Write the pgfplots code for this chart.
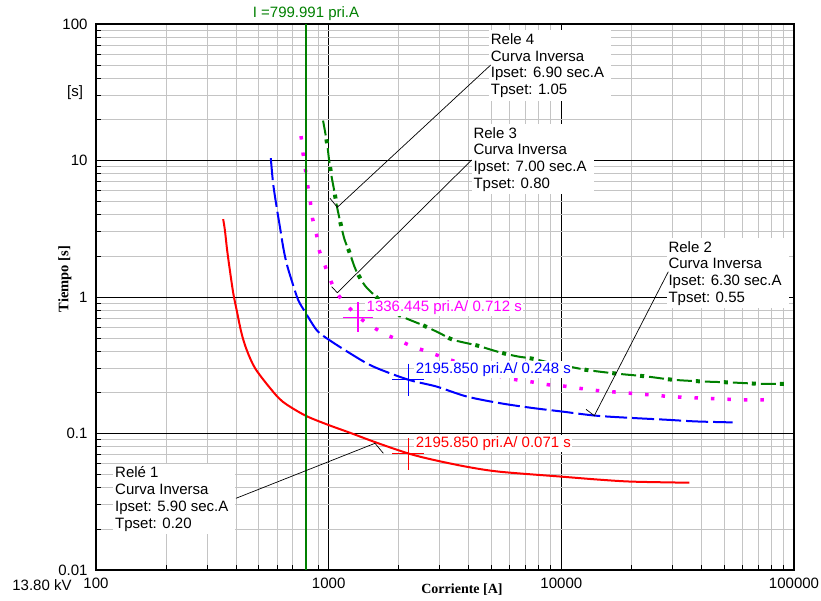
\documentclass[border=0pt]{standalone}
\usepackage{pgfplots}
\pgfplotsset{compat=1.18}
\usepackage{fontspec}
\setmainfont{Liberation Sans}
\newfontfamily\serifbf{Liberation Serif}
\definecolor{cRed}{RGB}{255,0,0}
\definecolor{cBlue}{RGB}{0,0,255}
\definecolor{cMag}{RGB}{255,0,255}
\definecolor{cGreen}{RGB}{0,128,0}
\definecolor{cGrid}{RGB}{196,196,196}
\newcommand{\lbl}{\fontsize{15}{16.7}\selectfont}
\begin{document}
\begin{tikzpicture}
\begin{axis}[
  scale only axis, width=698pt, height=546pt,
  xmode=log, ymode=log,
  xmin=100, xmax=100000, ymin=0.01, ymax=100,
  xtick={100,1000,10000,100000}, xticklabels={100,1000,10000,100000},
  ytick={0.01,0.1,1,10,100}, yticklabels={0.01,0.1,1,10,100},
  minor xtick={200,300,400,500,600,700,800,900,2000,3000,4000,5000,6000,7000,8000,9000,20000,30000,40000,50000,60000,70000,80000,90000},
  minor ytick={0.02,0.03,0.04,0.05,0.06,0.07,0.08,0.09,0.2,0.3,0.4,0.5,0.6,0.7,0.8,0.9,2,3,4,5,6,7,8,9,20,30,40,50,60,70,80,90},
  grid=both,
  major grid style={black, line width=0.8pt},
  minor grid style={cGrid, line width=0.8pt},
  axis line style={black, line width=1.5pt},
  tick align=inside, tick pos=left,
  major tick length=5pt, minor tick length=5pt,
  tick style={black, line width=0.8pt},
  ticklabel style={font=\lbl},
  xticklabel style={yshift=-4pt},
  yticklabel style={xshift=-5pt},
]
% Rele 1
\addplot[cRed, line width=2pt, smooth, tension=0.5] coordinates {
(352,3.72)(358,3.10)(366,2.22)(376,1.58)(389,1.068)(402,0.806)(422,0.544)(444,0.411)(482,0.302)(559,0.216)(635,0.171)(790,0.136)(991,0.116)(1232,0.1014)(1609,0.0856)(2196,0.0715)(2799,0.0643)(3917,0.0571)(5428,0.0525)(10020,0.0483)(14590,0.0459)(20210,0.0444)(35520,0.0436)};
% Rele 2
\addplot[cBlue, line width=2pt, smooth, tension=0.5, dash pattern=on 22pt off 5pt] coordinates {
(564,10.4)(577,6.82)(597,4.60)(617,3.28)(637,2.34)(659,1.77)(692,1.336)(739,0.954)(790,0.783)(886,0.575)(978,0.500)(1232,0.388)(1551,0.310)(2196,0.248)(2903,0.221)(3906,0.187)(5428,0.167)(7545,0.1537)(9990,0.1451)(14120,0.1350)(20280,0.1299)(28210,0.1262)(37940,0.1226)(54500,0.1206)};
% Rele 3
\addplot[cMag, line width=3.5pt, smooth, tension=0.5, dash pattern=on 3.5pt off 13pt] coordinates {
(761,15.1)(776,11.3)(795,8.53)(813,6.52)(835,4.92)(852,3.78)(886,2.90)(907,2.25)(959,1.74)(1011,1.366)(1076,1.092)(1173,0.902)(1294,0.762)(1429,0.658)(1582,0.590)(1741,0.535)(1955,0.492)(2201,0.447)(2469,0.4155)(2772,0.387)(3120,0.361)(3700,0.325)(4500,0.29)(5300,0.265)(6193,0.250)(6950,0.243)(7802,0.236)(8810,0.2276)(9990,0.2239)(11200,0.2175)(12660,0.2117)(14120,0.2067)(17960,0.1999)(22930,0.1932)(29150,0.1868)(36840,0.1828)(46700,0.1798)(59220,0.1768)(75810,0.1768)};
% Rele 4
\pgfplotstableread{
x y
946 19.6
984 13.4
1004 10.1
1028 7.72
1055 6.09
1087 4.55
1124 3.48
1169 2.65
1232 2.10
1308 1.58
1429 1.218
1566 1.038
1712 0.902
1955 0.762
2158 0.696
2543 0.621
2999 0.544
3421 0.486
4312 0.443
4834 0.4176
5608 0.388
6506 0.3667
7545 0.353
9300 0.325
11590 0.302
13220 0.290
17490 0.274
23150 0.262
30110 0.2477
40520 0.2406
53650 0.2366
70960 0.2315
93860 0.2315
}\relefour
\addplot[cGreen, line width=2pt, smooth, tension=0.5, dash pattern=on 15pt off 13pt] table {\relefour};
\addplot[cGreen, line width=4pt, smooth, tension=0.5, dash pattern=on 0pt off 19pt on 4pt off 5pt] table {\relefour};
% vertical current line
\addplot[cGreen, line width=2.7pt] coordinates {(799.991,0.01) (799.991,100)};
% markers
\addplot[cRed, only marks, mark=+, mark size=16pt, mark options={line width=1.2pt}] coordinates {(2195.85,0.071)};
\addplot[cBlue, only marks, mark=+, mark size=16pt, mark options={line width=1.2pt}] coordinates {(2195.85,0.248)};
\addplot[cMag, only marks, mark=+, mark size=15pt, mark options={line width=1.2pt}] coordinates {(1336.445,0.712)};
\node[anchor=west, fill=white, inner sep=1.5pt, text=cRed, font=\lbl, xshift=6pt, yshift=10pt] at (axis cs:2195.85,0.071) {2195.850 pri.A/ 0.071 s};
\node[anchor=west, fill=white, inner sep=1.5pt, text=cBlue, font=\lbl, xshift=6pt, yshift=10pt] at (axis cs:2195.85,0.248) {2195.850 pri.A/ 0.248 s};
\node[anchor=west, fill=white, inner sep=1.5pt, text=cMag, font=\lbl, xshift=7pt, yshift=10pt] at (axis cs:1336.445,0.712) {1336.445 pri.A/ 0.712 s};
\end{axis}
\begin{scope}[shift={(current axis.north west)}, x=1pt, y=-1pt]
  \tikzset{box/.style={anchor=west, fill=white, align=left, font=\lbl, inner xsep=2pt, inner ysep=3pt}}
  \node[box] at (392.7,41.5) {Rele 4\\Curva Inversa\\Ipset: 6.90 sec.A\kern5pt\\Tpset: 1.05};
  \node[box] at (375.3,135.2) {Rele 3\\Curva Inversa\\Ipset: 7.00 sec.A\kern5pt\\Tpset: 0.80};
  \node[box] at (570.3,249.2) {Rele 2\\Curva Inversa\\Ipset: 6.30 sec.A\kern5pt\\Tpset: 0.55};
  \node[box] at (17,475) {Relé 1\\Curva Inversa\\Ipset: 5.90 sec.A\kern5pt\\Tpset: 0.20};
  \draw[black, line width=0.7pt] (394.7,41) -- (241.3,183.3) -- (234,174.3);
  \draw[black, line width=0.7pt] (375.7,136) -- (241.3,268.7) -- (235.7,262.7);
  \draw[black, line width=0.7pt] (572.3,247.7) -- (498.3,391.7) -- (490,385.3);
  \draw[black, line width=0.7pt] (140,474.3) -- (279,419.3) -- (287.3,429.3);
  \node[text=cGreen, font=\lbl] at (210,-10) {I =799.991 pri.A};
  \node[font=\lbl] at (-21,68.7) {[s]};
  \node[font=\fontsize{14.5}{16}\serifbf\bfseries, rotate=90] at (-31,255) {Tiempo [s]};
  \node[font=\fontsize{14}{16}\serifbf\bfseries] at (366,566) {Corriente [A]};
  \node[font=\lbl] at (-54,561) {13.80 kV};
  \pgfresetboundingbox
  \useasboundingbox (-96,-24) rectangle (725,576);
\end{scope}
\end{tikzpicture}
\end{document}
